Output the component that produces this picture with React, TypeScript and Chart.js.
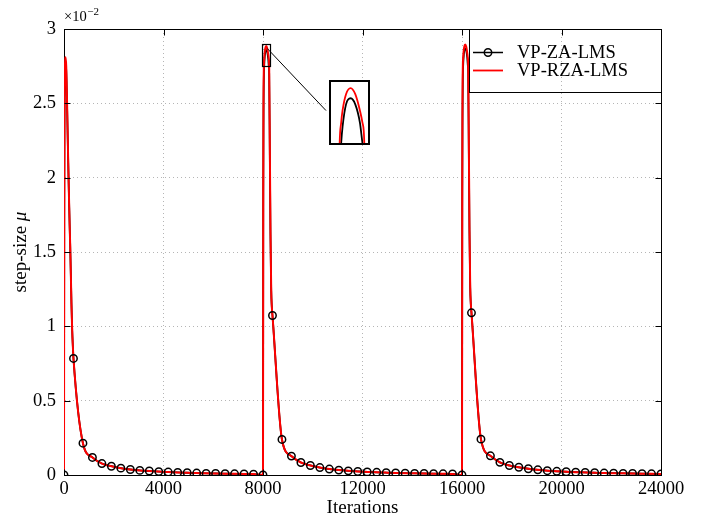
import React, { useEffect, useRef } from 'react';
import { Chart, registerables } from 'chart.js';

Chart.register(...registerables);

// ---- data ----
const xTicks = [0, 4000, 8000, 12000, 16000, 20000, 24000];
const yTicks = [0, 0.5, 1, 1.5, 2, 2.5, 3];
const seriesNames = ['VP-ZA-LMS', 'VP-RZA-LMS'];

// each reset of the step size starts a segment
const segmentStarts = [0, 8000, 16000];

// iterations after a reset, covering the spike
const spikeOffsets = [0, 10, 20, 35, 48, 60, 90, 130, 170, 210, 232, 248, 275, 300, 330, 355];
const redSpike1 = [0, 1.8, 2.45, 2.72, 2.79, 2.81, 2.75, 2.45, 2.1, 1.8, 1.65, 1.55, 1.35, 1.15, 0.97, 0.87];
const redSpike2 = [0, 1.9, 2.5, 2.75, 2.8, 2.83, 2.87, 2.885, 2.87, 2.83, 2.8, 2.75, 2.2, 1.65, 1.25, 1.13];
const redSpike3 = [0, 1.9, 2.5, 2.76, 2.81, 2.84, 2.88, 2.895, 2.88, 2.84, 2.81, 2.76, 2.22, 1.67, 1.27, 1.15];
const blackSpike1 = [0, 1.7, 2.35, 2.65, 2.73, 2.76, 2.72, 2.43, 2.1, 1.8, 1.65, 1.55, 1.35, 1.15, 0.97, 0.87];
const blackSpike2 = [0, 1.8, 2.4, 2.68, 2.75, 2.79, 2.845, 2.86, 2.845, 2.8, 2.75, 2.7, 2.15, 1.62, 1.24, 1.13];
const blackSpike3 = [0, 1.8, 2.4, 2.69, 2.76, 2.8, 2.855, 2.87, 2.855, 2.81, 2.76, 2.71, 2.17, 1.64, 1.26, 1.15];

// marker positions (iterations after a reset) and the VP-ZA-LMS values there
const markerOffsets = [0, 381, 762, 1143, 1524, 1905, 2286, 2667, 3048, 3429, 3810, 4190, 4571, 4952, 5333, 5714, 6095, 6476, 6857, 7238, 7619];
const markers1 = [0, 0.784, 0.214, 0.118, 0.077, 0.059, 0.046, 0.037, 0.031, 0.027, 0.023, 0.02, 0.017, 0.015, 0.013, 0.011, 0.01, 0.009, 0.008, 0.007, 0.006];
const markers2 = [0, 1.073, 0.239, 0.127, 0.084, 0.064, 0.05, 0.04, 0.033, 0.028, 0.024, 0.021, 0.018, 0.016, 0.014, 0.012, 0.011, 0.01, 0.009, 0.008, 0.007];
const markers3 = [0, 1.091, 0.241, 0.129, 0.085, 0.064, 0.052, 0.042, 0.035, 0.029, 0.025, 0.022, 0.019, 0.017, 0.015, 0.013, 0.012, 0.011, 0.01, 0.009, 0.008];
const endIteration = 24000;
const endValue = 0.007;

// zoomed window shown in the inset
const zoomXRange = [7960, 8280];
const zoomYRange = [2.75, 2.9];

const SERIF = '"Liberation Serif", "Times New Roman", serif';

type Pt = { x: number; y: number };

function buildLine(spikes: number[][], markerSets: number[][]): Pt[] {
  const pts: Pt[] = [];
  segmentStarts.forEach((s, i) => {
    spikeOffsets.forEach((o, j) => pts.push({ x: s + o, y: spikes[i][j] }));
    markerOffsets.forEach((o, j) => {
      if (j > 0) pts.push({ x: s + o, y: markerSets[i][j] });
    });
  });
  pts.push({ x: endIteration, y: endValue });
  return pts;
}

function buildMarkers(markerSets: number[][]): Pt[] {
  const pts: Pt[] = [];
  segmentStarts.forEach((s, i) => {
    markerOffsets.forEach((o, j) => pts.push({ x: s + o, y: markerSets[i][j] }));
  });
  pts.push({ x: endIteration, y: endValue });
  return pts;
}

const markerSets = [markers1, markers2, markers3];
const redPts = buildLine([redSpike1, redSpike2, redSpike3], markerSets);
const blackPts = buildLine([blackSpike1, blackSpike2, blackSpike3], markerSets);
const markerPts = buildMarkers(markerSets);

const INSET = { left: 329, top: 80, width: 41, height: 65 };

const decorPlugin = {
  id: 'decor',
  afterDraw(chart: any) {
    const { ctx, chartArea: ca, scales } = chart;
    const xs = scales.x;
    const ys = scales.y;
    const L = ca.left + 0.5;
    const R = ca.right + 0.5;
    const T = ca.top + 0.5;
    const B = ca.bottom + 0.5;
    ctx.save();
    ctx.strokeStyle = '#000';
    ctx.lineWidth = 1;
    // top & right border
    ctx.beginPath();
    ctx.moveTo(L, T);
    ctx.lineTo(R, T);
    ctx.lineTo(R, B);
    ctx.stroke();
    // inward ticks
    const tl = 6;
    ctx.beginPath();
    xTicks.forEach((v) => {
      const px = Math.round(xs.getPixelForValue(v)) + 0.5;
      ctx.moveTo(px, B);
      ctx.lineTo(px, B - tl);
      ctx.moveTo(px, T);
      ctx.lineTo(px, T + tl);
    });
    yTicks.forEach((v) => {
      const py = Math.round(ys.getPixelForValue(v)) + 0.5;
      ctx.moveTo(L, py);
      ctx.lineTo(L + tl, py);
      ctx.moveTo(R, py);
      ctx.lineTo(R - tl, py);
    });
    ctx.stroke();

    // zoom rectangle
    const zx1 = Math.round(xs.getPixelForValue(zoomXRange[0])) + 0.5;
    const zx2 = Math.round(xs.getPixelForValue(zoomXRange[1])) + 0.5;
    const zy1 = Math.round(ys.getPixelForValue(zoomYRange[1])) + 0.5;
    const zy2 = Math.round(ys.getPixelForValue(zoomYRange[0])) + 0.5;
    ctx.lineWidth = 1.2;
    ctx.strokeRect(zx1, zy1, zx2 - zx1, zy2 - zy1);
    // connector
    ctx.lineWidth = 1;
    ctx.beginPath();
    ctx.moveTo(zx1 + (zx2 - zx1) * 0.6, zy1 + 4);
    ctx.lineTo(INSET.left - 3, INSET.top + INSET.height * 0.47);
    ctx.stroke();

    // legend box
    const lx = 469.5;
    const ly = T;
    const lw = R - lx;
    const lh = 63;
    ctx.lineWidth = 1;
    ctx.strokeRect(lx, ly, lw, lh);
    const rows = [52.5, 70.5];
    // entry 1: black with marker
    ctx.lineWidth = 1.5;
    ctx.strokeStyle = '#000';
    ctx.beginPath();
    ctx.moveTo(473, rows[0]);
    ctx.lineTo(503, rows[0]);
    ctx.stroke();
    ctx.lineWidth = 1.5;
    ctx.beginPath();
    ctx.arc(488, rows[0], 3.7, 0, Math.PI * 2);
    ctx.stroke();
    // entry 2: red
    ctx.strokeStyle = '#ff0000';
    ctx.lineWidth = 1.8;
    ctx.beginPath();
    ctx.moveTo(473, rows[1]);
    ctx.lineTo(503, rows[1]);
    ctx.stroke();
    ctx.fillStyle = '#000';
    ctx.font = `18.5px ${SERIF}`;
    ctx.textBaseline = 'alphabetic';
    ctx.textAlign = 'left';
    ctx.fillText(seriesNames[0], 517, 57.5);
    ctx.fillText(seriesNames[1], 517, 76);

    // exponent label
    ctx.font = `14.5px ${SERIF}`;
    ctx.fillText('\u00d710', 64, 20.5);
    const w10 = ctx.measureText('\u00d710').width;
    ctx.font = `11px ${SERIF}`;
    ctx.fillText('\u22122', 64 + w10 + 0.5, 15);

    // y title
    ctx.save();
    ctx.translate(21, (ca.top + ca.bottom) / 2);
    ctx.rotate(-Math.PI / 2);
    ctx.textBaseline = 'middle';
    ctx.font = `19px ${SERIF}`;
    const t1 = 'step-size ';
    const w1 = ctx.measureText(t1).width;
    ctx.font = `italic 19px ${SERIF}`;
    const w2 = ctx.measureText('\u03bc').width;
    const start = -(w1 + w2) / 2;
    ctx.font = `19px ${SERIF}`;
    ctx.fillText(t1, start, 0);
    ctx.font = `italic 19px ${SERIF}`;
    ctx.fillText('\u03bc', start + w1, 0);
    ctx.restore();

    ctx.restore();
  },
};

export default function App() {
  const mainRef = useRef<HTMLCanvasElement | null>(null);
  const insetRef = useRef<HTMLCanvasElement | null>(null);

  useEffect(() => {
    const tickFont = { family: SERIF, size: 18.5 };
    const main = new Chart(mainRef.current as HTMLCanvasElement, {
      type: 'line',
      data: {
        datasets: [
          {
            label: seriesNames[0] + ' markers',
            data: markerPts,
            showLine: false,
            pointRadius: 3.7,
            pointBorderWidth: 1.5,
            pointBorderColor: '#000',
            pointBackgroundColor: 'rgba(0,0,0,0)',
            order: 0,
          },
          {
            label: seriesNames[1],
            data: redPts,
            borderColor: '#ff0000',
            borderWidth: 2,
            pointRadius: 0,
            cubicInterpolationMode: 'monotone',
            order: 1,
          },
          {
            label: seriesNames[0],
            data: blackPts,
            borderColor: '#000',
            borderWidth: 1.8,
            pointRadius: 0,
            cubicInterpolationMode: 'monotone',
            order: 2,
          },
        ] as any,
      },
      options: {
        responsive: false,
        animation: false,
        events: [],
        layout: { padding: { top: 29, right: 41, left: 0, bottom: 0 } },
        plugins: { legend: { display: false }, tooltip: { enabled: false } },
        scales: {
          x: {
            type: 'linear',
            min: 0,
            max: 24000,
            afterBuildTicks: (s: any) => {
              s.ticks = xTicks.map((v) => ({ value: v }));
            },
            afterFit: (s: any) => {
              s.height = 44;
            },
            ticks: {
              font: tickFont,
              color: '#000',
              padding: 3,
              maxRotation: 0,
              autoSkip: false,
              callback: (v: any) => String(v),
            },
            grid: { color: '#b5b5b5', lineWidth: 1, drawTicks: false },
            border: { display: true, color: '#000', width: 1, dash: [1, 3] },
            title: {
              display: true,
              text: 'Iterations',
              font: { family: SERIF, size: 19 },
              color: '#000',
              padding: 0,
            },
          },
          y: {
            type: 'linear',
            min: 0,
            max: 3,
            afterBuildTicks: (s: any) => {
              s.ticks = yTicks.map((v) => ({ value: v }));
            },
            afterFit: (s: any) => {
              s.width = 64;
            },
            ticks: {
              font: tickFont,
              color: '#000',
              padding: 8,
              autoSkip: false,
              callback: (v: any) => String(v),
            },
            grid: { color: '#b5b5b5', lineWidth: 1, drawTicks: false },
            border: { display: true, color: '#000', width: 1, dash: [1, 3] },
          },
        },
      } as any,
      plugins: [decorPlugin],
    });

    const inset = new Chart(insetRef.current as HTMLCanvasElement, {
      type: 'line',
      data: {
        datasets: [
          {
            label: seriesNames[1],
            data: redPts,
            borderColor: '#ff0000',
            borderWidth: 1.8,
            pointRadius: 0,
            cubicInterpolationMode: 'monotone',
            order: 1,
          },
          {
            label: seriesNames[0],
            data: blackPts,
            borderColor: '#000',
            borderWidth: 1.8,
            pointRadius: 0,
            cubicInterpolationMode: 'monotone',
            order: 2,
          },
        ] as any,
      },
      options: {
        responsive: false,
        animation: false,
        events: [],
        layout: { padding: 0 },
        plugins: { legend: { display: false }, tooltip: { enabled: false } },
        scales: {
          x: { type: 'linear', min: zoomXRange[0], max: zoomXRange[1], display: false },
          y: { type: 'linear', min: zoomYRange[0], max: zoomYRange[1], display: false },
        },
      } as any,
    });

    return () => {
      main.destroy();
      inset.destroy();
    };
  }, []);

  return (
    <div style={{ position: 'fixed', left: 0, top: 0, width: 702, height: 519, background: '#fff' }}>
      <canvas ref={mainRef} width={702} height={519} style={{ display: 'block', width: 702, height: 519 }} />
      <div
        style={{
          position: 'absolute',
          left: INSET.left,
          top: INSET.top,
          width: INSET.width,
          height: INSET.height,
          border: '2px solid #000',
          boxSizing: 'border-box',
          background: '#fff',
        }}
      >
        <canvas
          ref={insetRef}
          width={INSET.width - 4}
          height={INSET.height - 4}
          style={{ display: 'block', width: INSET.width - 4, height: INSET.height - 4 }}
        />
      </div>
    </div>
  );
}
